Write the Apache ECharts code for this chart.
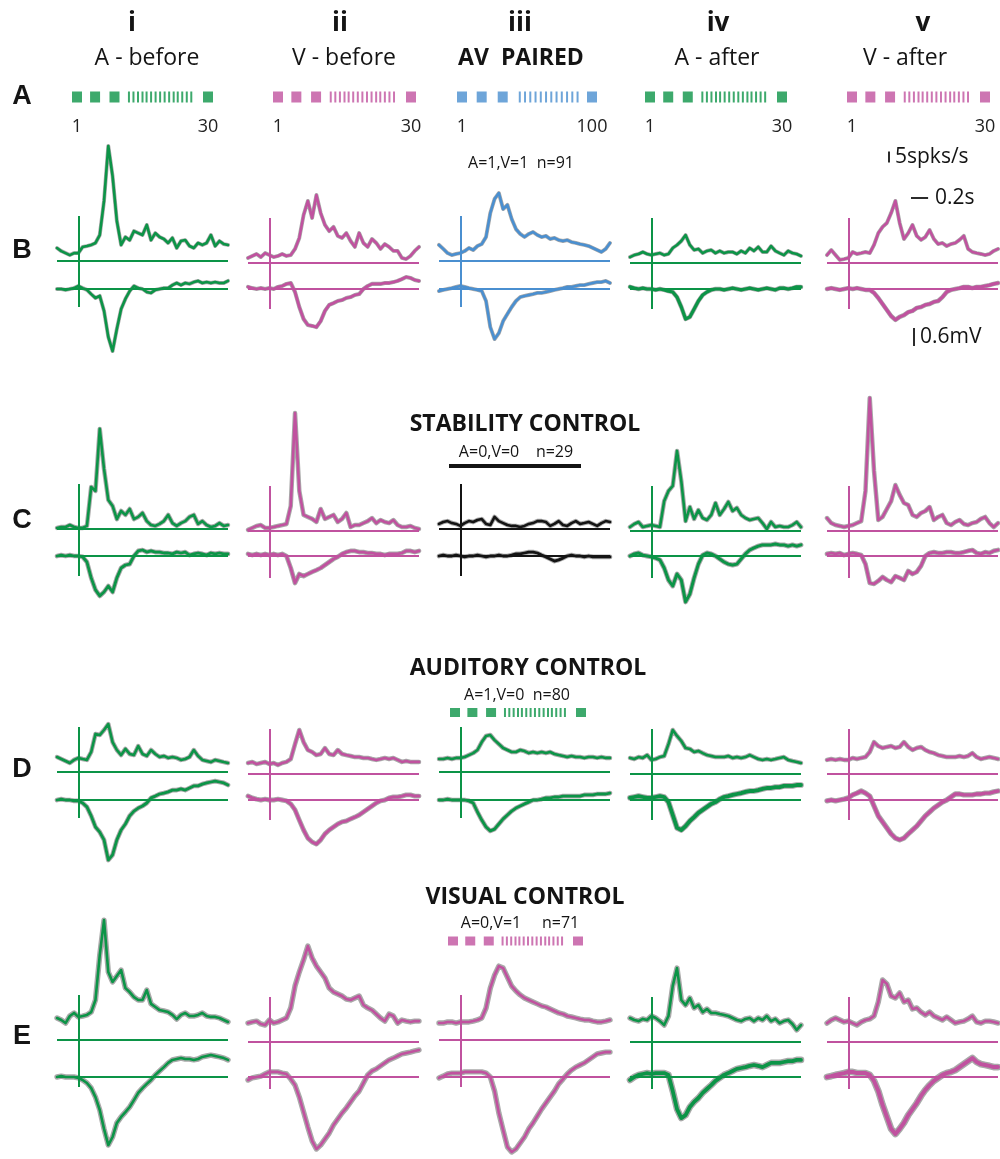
<!DOCTYPE html>
<html>
<head>
<meta charset="utf-8">
<title>Spiking and LFP responses before and after audio-visual pairing</title>
<script src="https://cdn.jsdelivr.net/npm/echarts@6/dist/echarts.min.js"></script>
<style>
  html, body { margin: 0; padding: 0; background: #ffffff; }
  #chart { width: 1000px; height: 1159px; }
</style>
</head>
<body>
<div id="chart"></div>
<script>
// ---------------- labels ----------------
const columnNumerals = ['i', 'ii', 'iii', 'iv', 'v'];
const columnTitles = ['A - before', 'V - before', 'AV  PAIRED', 'A - after', 'V - after'];
const rowLetters = ['A', 'B', 'C', 'D', 'E'];
const trialAxisMax = [30, 30, 100, 30, 30];
const controlTitles = ['STABILITY CONTROL', 'AUDITORY CONTROL', 'VISUAL CONTROL'];
const conditionLabels = ['A=1,V=1  n=91', 'A=0,V=0    n=29', 'A=1,V=0  n=80', 'A=0,V=1     n=71'];
const scaleLabels = ['5spks/s', '0.2s', '0.6mV'];

// trial markers of the stimulation protocol (trial number)
const stimBlocks30 = [1, 5, 9.3, 30];
const stimTicks30 = [12.5, 13.5, 14.5, 15.5, 16.4, 17.4, 18.4, 19.4, 20.4, 21.4, 22.4, 23.3, 24.3, 25.3, 26.3];
const stimBlocks100 = [1, 16, 32, 100];
const stimTicks100 = [45, 49, 53, 57, 61, 65, 69, 73, 77, 81, 85, 89];

// ---------------- responses ----------------
// 41 samples, -0.25 s .. 1.75 s, stimulus onset at 0 s
// PSTH in spikes/s, LFP in mV

const psth_B_i = [5.9,4.5,3.6,2.7,3.6,3.6,6.4,6.8,7.3,8.2,11.8,27.3,52.3,38.6,18.2,7.3,10.9,9.5,13.6,12.7,11.8,16.4,9.5,12.7,10.9,10,8.2,10.5,5.9,9.1,9.5,6.8,5.9,8.2,7.3,8.2,11.8,6.8,9.1,7.7,7.3];
const lfp_B_i = [0,0,-0.03,0,0.03,0.1,0.03,-0.03,-0.17,-0.3,-0.23,-0.73,-1.6,-2.07,-1.33,-0.67,-0.33,-0.07,0.1,0.03,0,-0.1,-0.13,-0.03,0,0.03,0.03,0.13,0.2,0.13,0.2,0.17,0.23,0.27,0.2,0.23,0.2,0.23,0.2,0.2,0.27];
const psth_B_ii = [2.3,3.2,4.1,2.7,4.5,3.6,2.7,3.2,4.1,3.2,3.6,6.4,11.4,21.8,28.2,20.5,30.9,22.7,17.3,14.5,16.4,12.3,11.4,13.6,10,7.3,13.6,9.1,7.3,10.9,9.1,6.4,8.6,7.3,5.5,5.5,2.3,1.8,3.2,5.5,7.3];
const lfp_B_ii = [0.07,0.03,0,0.03,0,0.03,0,0.07,0.1,0.17,0.2,-0.1,-0.6,-1,-1.2,-1.23,-1.27,-1.07,-0.73,-0.53,-0.47,-0.4,-0.37,-0.3,-0.27,-0.2,-0.17,0,0.1,0.17,0.17,0.17,0.2,0.2,0.23,0.27,0.33,0.4,0.37,0.3,0.27];
const psth_B_iii = [7.3,5.5,3.6,2.7,3.2,3.6,4.5,5.9,5,6.8,7.7,10.9,21.8,28.2,30.9,23.6,25.5,19.1,14.5,12.3,10.9,12.3,13.2,11.8,10.9,11.4,10,10.5,9.5,9.1,9.5,8.6,8.2,7.7,7.3,6.8,5.9,5,4.1,5.5,8.2];
const lfp_B_iii = [-0.07,-0.03,0,0.03,0.07,0.1,0.07,0.03,0,-0.03,-0.07,-0.4,-1.27,-1.67,-1.47,-1.07,-0.83,-0.6,-0.4,-0.27,-0.23,-0.2,-0.17,-0.13,-0.13,-0.1,-0.07,-0.03,0,0.03,0.07,0.07,0.1,0.13,0.13,0.17,0.2,0.23,0.23,0.27,0.2];
const psth_B_iv = [2.7,3.6,4.1,5,4.1,3.6,4.1,4.5,3.6,4.1,6.8,8.2,10,12.7,8.2,5.9,6.4,4.5,5.5,5.9,4.5,5.5,4.5,5,5,4.1,5.5,4.5,6.8,5.5,7.3,5,5,7.7,5.5,4.5,3.6,5.5,4.5,4.1,3.2];
const lfp_B_iv = [0.07,0.03,0,0.03,0,0,-0.03,0,-0.03,-0.07,-0.1,-0.27,-0.6,-1,-0.93,-0.67,-0.4,-0.2,-0.1,-0.03,0,0,-0.03,0,0.03,0,-0.03,0,0.03,0,-0.03,0,0.03,0,-0.03,0.03,0.03,0,0.03,0.07,0.07];
const psth_B_v = [3.6,5.9,3.6,1.4,1.8,2.3,5,4.1,4.5,5,4.5,8.2,13.6,16.4,18.2,22.7,28.2,18.2,10.9,13.6,17.3,12.3,10.5,11.8,15,10.9,8.6,9.1,7.7,8.6,9.1,10.5,12.3,6.4,5,4.5,4.1,3.6,4.1,5.5,6.4];
const lfp_B_v = [0,0.03,0,-0.03,0,0.03,0,0.03,0,-0.03,-0.03,-0.13,-0.3,-0.5,-0.7,-0.9,-1.03,-0.93,-0.87,-0.77,-0.73,-0.63,-0.6,-0.53,-0.5,-0.43,-0.4,-0.27,-0.1,-0.03,0,0.03,0.07,0.07,0.03,0.07,0.07,0.1,0.13,0.17,0.2];

const psth_C_i = [0.5,0.9,0.9,1.8,0.9,0.5,0.5,1.4,19.1,17.3,45.5,27.3,13.2,10.5,4.5,8.2,6.4,9.1,4.5,5.5,7.3,3.6,1.8,1.4,2.3,3.6,6.4,2.7,1.4,2.7,3.6,5.5,6.4,2.3,3.6,1.8,0.9,1.4,2.7,1.4,1.8];
const lfp_C_i = [0,0.03,0,0.03,0,0,-0.03,-0.2,-0.73,-1.13,-1.33,-1.2,-1,-1.2,-0.73,-0.4,-0.3,-0.27,0,0.17,0.2,0.13,0.17,0.13,0.13,0.1,0.1,0.07,0.13,0.1,0.13,0.03,0.07,0.1,0.07,0.03,0.1,0.07,0.1,0.07,0.07];
const psth_C_ii = [0.5,1.4,2.3,2.7,1.4,1.4,1.8,2.3,2.7,3.2,11.4,53.6,18.2,7.3,6.4,5.5,4.1,10,5.5,6.4,7.3,4.1,5.5,8.2,1.8,2.7,2.7,3.6,4.5,5.9,3.6,5,4.1,3.6,5,2.7,1.8,1.8,2.3,1.4,0.9];
const lfp_C_ii = [0.07,0.03,0.07,0.03,0.07,0.03,0.07,0.03,0.07,0,-0.4,-0.9,-0.6,-0.67,-0.6,-0.53,-0.47,-0.4,-0.3,-0.2,-0.1,-0.03,0.07,0.13,0.17,0.17,0.13,0.13,0.1,0.1,0.07,0.07,0.03,0.07,0.07,0.07,0.1,0.17,0.17,0.13,0.17];
const psth_C_iii = [2.3,3.2,3.6,2.7,2.3,1.4,2.7,3.6,3.2,4.1,4.5,2.3,1.8,5.5,3.6,2.7,1.8,1.4,1.4,0.9,1.4,2.3,2.7,3.6,3.6,3.2,1.4,2.3,3.6,1.8,1.4,2.7,3.6,2.3,2.7,3.2,2.3,1.4,2.7,3.6,3.2];
const lfp_C_iii = [0,0.03,0,0,0.03,0,-0.03,0,0,0.03,0,-0.03,0,0,0.03,0,0,0.03,0.07,0.07,0.1,0.13,0.13,0.1,0.03,-0.03,-0.1,-0.17,-0.13,-0.07,0,0.03,0,0,-0.03,0,-0.03,-0.03,-0.03,-0.03,-0.03];
const psth_C_iv = [1.8,3.2,4.1,1.8,2.3,2.7,2.3,1.8,13.6,18.2,20.5,36.4,22.7,4.5,10.9,5.5,9.5,5.9,5,7.3,12.7,7.3,10,13.2,9.1,10.5,7.3,5.9,5,5.5,5.9,3.6,0.9,4.1,1.8,2.3,1.8,1.8,2.7,4.1,1.8];
const lfp_C_iv = [0,0.07,0.1,0.03,0,-0.03,-0.07,-0.13,-0.4,-0.8,-1,-0.6,-0.8,-1.53,-1.27,-0.73,-0.27,0.03,0.1,0.07,0,-0.1,-0.2,-0.27,-0.3,-0.27,-0.1,0.07,0.2,0.27,0.33,0.37,0.37,0.37,0.4,0.37,0.37,0.33,0.37,0.33,0.37];
const psth_C_v = [5.9,3.6,2.7,2.3,1.8,2.3,2.7,3.6,4.5,18.2,60.5,27.3,5,6.4,10,13.6,20.9,16.4,12.7,11.8,7.3,6.4,8.2,9.1,10.9,5,6.4,7.3,3.6,2.7,4.1,5,3.2,2.7,3.6,4.1,5.5,6.4,3.6,1.8,3.6];
const lfp_C_v = [0.07,0.1,0.07,0.1,0.03,0.07,0.1,0.07,0.03,-0.27,-0.9,-0.93,-0.83,-0.7,-0.8,-0.87,-0.67,-0.73,-0.8,-0.5,-0.6,-0.53,-0.33,0,0.1,0.13,0.1,0.1,0.13,0.13,0.1,0.1,0.13,0.17,0.2,0.1,0.07,0.13,0.1,0.17,0.2];

const psth_D_i = [6.8,5.9,5,4.1,5.5,6.4,5.9,5.5,9.1,17.3,16.8,19.1,21.8,13.6,10,7.7,10.5,8.2,7.7,11.8,8.2,7.3,10,8.2,6.8,7.3,6.4,6.8,6.4,5.5,5.9,6.8,10,7.3,5.5,5,4.5,5.5,5,4.5,4.1];
const lfp_D_i = [0,0.03,0,0,-0.03,-0.03,-0.1,-0.23,-0.53,-0.9,-1.07,-1.33,-2,-1.83,-1.33,-1,-0.8,-0.53,-0.37,-0.27,-0.2,-0.1,0.07,0.13,0.2,0.23,0.27,0.33,0.33,0.37,0.33,0.4,0.47,0.47,0.53,0.57,0.6,0.63,0.6,0.57,0.5];
const psth_D_ii = [5,5.5,4.5,5,5.5,4.5,5,4.1,5,5.5,6.8,13.6,20,14.5,10.9,10,8.6,9.1,11.8,9.1,8.6,10.9,9.1,8.6,8.2,7.7,7.7,7.3,7.3,6.8,6.4,6.8,7.3,6.8,7.3,6.4,5.5,5.9,5.5,5.5,5.5];
const lfp_D_ii = [0.13,0.07,0.03,0,0.03,0,0,0.03,0,-0.03,-0.13,-0.33,-0.67,-1,-1.27,-1.4,-1.47,-1.33,-1.13,-1,-0.9,-0.8,-0.73,-0.7,-0.63,-0.57,-0.5,-0.4,-0.3,-0.2,-0.1,-0.03,0,0.07,0.1,0.1,0.13,0.17,0.17,0.13,0.13];
const psth_D_iii = [5.9,5.9,6.4,5.9,6.4,6.4,6.8,7.7,8.6,10,13.6,16.4,16.8,14.5,12.7,10.9,10,9.1,9.1,10,9.5,8.6,9.1,8.6,9.1,8.6,9.1,8.2,7.7,7.3,6.8,7.3,6.8,6.8,6.4,6.8,6.8,6.4,6.8,6.4,6.4];
const lfp_D_iii = [0,0,0.03,0,0,0,0,-0.03,-0.1,-0.4,-0.67,-0.9,-1.03,-0.97,-0.8,-0.63,-0.5,-0.37,-0.27,-0.2,-0.13,-0.07,0,0,0.03,0.07,0.07,0.1,0.1,0.13,0.13,0.13,0.13,0.13,0.17,0.17,0.17,0.2,0.2,0.2,0.23];
const psth_D_iv = [7.3,6.8,7.7,7.3,8.6,6.4,6.8,7.7,8.2,13.6,20,17.3,15,11.8,11.4,10,10.5,9.5,8.6,8.2,7.7,7.7,7.7,8.2,7.3,7.7,7.3,7.7,8.6,7.7,6.8,6.4,6.8,6.4,6.8,7.3,7.7,6.4,5.9,5.5,5];
const lfp_D_iv = [0.07,0.1,0.13,0.1,0.07,0.07,0.1,0.13,0.1,-0.07,-0.5,-0.93,-1,-0.87,-0.7,-0.57,-0.43,-0.33,-0.23,-0.13,-0.07,0.03,0.1,0.13,0.17,0.2,0.23,0.27,0.3,0.3,0.33,0.37,0.4,0.4,0.43,0.43,0.47,0.47,0.47,0.5,0.5];
const psth_D_v = [6.4,6.8,6.4,6.8,6.4,6.4,7.3,6.8,7.3,7.7,10,14.5,12.7,11.8,12.3,12.7,11.8,12.3,14.5,12.3,10.9,11.8,12.3,10.9,10,9.5,8.6,8.2,7.7,7.7,7.7,8.2,7.7,8.2,9.5,7.7,6.8,7.3,7.7,7.3,6.8];
const lfp_D_v = [-0.03,0,-0.03,0,0.03,0.07,0.17,0.23,0.3,0.23,0.13,-0.2,-0.53,-0.73,-0.93,-1.13,-1.27,-1.33,-1.27,-1.13,-1,-0.87,-0.7,-0.53,-0.4,-0.27,-0.17,-0.07,0,0.1,0.2,0.2,0.17,0.17,0.17,0.2,0.2,0.23,0.23,0.27,0.3];

const psth_E_i = [10,9.1,7.7,10.9,12.3,10.5,10.9,11.4,12.7,18.2,38.6,54.5,30.9,26.4,29.1,31.8,23.6,21.8,19.5,18.2,18.2,22.7,16.4,15,13.6,13.2,12.7,11.4,9.5,11.4,12.3,10.9,10.9,11.4,12.3,10.9,10.5,10.5,10,9.1,8.2];
const lfp_E_i = [0,0.03,0,0,0,-0.03,-0.1,-0.2,-0.37,-0.67,-1.1,-1.73,-2.27,-2,-1.53,-1.33,-1.17,-1,-0.77,-0.53,-0.37,-0.23,-0.1,0.07,0.2,0.33,0.47,0.57,0.6,0.63,0.6,0.6,0.57,0.6,0.67,0.7,0.73,0.7,0.67,0.63,0.57];
const psth_E_ii = [8.6,9.1,9.5,8.2,7.7,10,8.6,9.1,10,10.9,15.5,25.5,31.8,37.3,43.6,38.2,34.5,31.8,29.1,24.5,22.7,21.8,20.9,19.5,19.1,20,20.9,16.8,15.5,14.5,12.7,10.9,9.5,12.7,11.8,8.6,10,9.5,9.1,9.5,9.5];
const lfp_E_ii = [-0.1,-0.03,0,0.03,0.1,0.17,0.17,0.17,0.13,0.1,-0.07,-0.27,-0.67,-1.17,-1.67,-2.13,-2.4,-2.27,-2.07,-1.87,-1.6,-1.4,-1.2,-1.03,-0.83,-0.63,-0.47,-0.2,0.07,0.2,0.27,0.37,0.47,0.57,0.63,0.7,0.77,0.8,0.83,0.87,0.9];
const psth_E_iii = [7.7,7.7,8.2,8.2,7.7,8.2,8.2,8.2,8.6,9.1,10,14.5,23.6,29.5,33.6,32.7,28.6,24.5,22.3,20.5,19.1,18.2,17.3,16.4,15.5,15,14.1,13.2,12.3,11.8,10.9,10.5,10,9.5,9.1,9.1,8.6,8.2,8.2,8.6,9.1];
const lfp_E_iii = [-0.03,0.03,0.1,0.13,0.13,0.13,0.17,0.17,0.17,0.17,0.17,0.13,0,-0.47,-1.2,-1.77,-2.33,-2.5,-2.4,-2.2,-2,-1.73,-1.53,-1.3,-1.07,-0.87,-0.67,-0.47,-0.23,-0.07,0.1,0.23,0.33,0.4,0.47,0.57,0.67,0.77,0.8,0.83,0.83];
const psth_E_iv = [10.9,10,9.5,10.5,10,11.8,10.9,9.5,7.7,11.8,25.5,33.6,19.1,16.8,20,15.5,16.8,13.6,15,13.2,13.2,12.7,12.3,11.8,10.9,10,9.5,10.5,10.9,9.5,10.9,10,11.8,9.5,10.5,8.6,9.5,10,8.2,5.5,7.7];
const lfp_E_iv = [-0.1,0,0.07,0.1,0.13,0.1,0.13,0.13,0.13,0.07,-0.47,-1.07,-1.37,-1.27,-1,-0.83,-0.7,-0.53,-0.4,-0.27,-0.13,-0.03,0.07,0.13,0.2,0.27,0.3,0.33,0.37,0.4,0.37,0.33,0.4,0.47,0.47,0.47,0.5,0.53,0.53,0.57,0.57];
const psth_E_v = [8.6,10,10.9,10,9.1,9.5,8.6,7.7,9.1,10,10.5,11.8,18.2,28.2,26.4,20.9,20,22.3,18.2,19.1,15,15.5,13.6,12.3,13.6,11.8,10.9,10,11.4,10,8.6,9.1,9.5,10.5,11.8,9.1,8.6,9.5,9.5,9.1,8.6];
const lfp_E_v = [0,0.03,0.07,0.1,0.13,0.17,0.17,0.13,0.13,0.13,0.07,-0.13,-0.47,-0.93,-1.33,-1.73,-1.9,-1.73,-1.53,-1.27,-1.07,-0.87,-0.63,-0.43,-0.27,-0.13,-0.03,0.07,0.13,0.17,0.23,0.33,0.43,0.53,0.63,0.5,0.43,0.4,0.37,0.33,0.33];

// which stimulus each panel shows, and its traces
const panels = [
  { row: 'B', col: 0, kind: 'A',  psth: psth_B_i,   lfp: lfp_B_i },
  { row: 'B', col: 1, kind: 'V',  psth: psth_B_ii,  lfp: lfp_B_ii },
  { row: 'B', col: 2, kind: 'AV', psth: psth_B_iii, lfp: lfp_B_iii },
  { row: 'B', col: 3, kind: 'A',  psth: psth_B_iv,  lfp: lfp_B_iv },
  { row: 'B', col: 4, kind: 'V',  psth: psth_B_v,   lfp: lfp_B_v },
  { row: 'C', col: 0, kind: 'A',  psth: psth_C_i,   lfp: lfp_C_i },
  { row: 'C', col: 1, kind: 'V',  psth: psth_C_ii,  lfp: lfp_C_ii },
  { row: 'C', col: 2, kind: '0',  psth: psth_C_iii, lfp: lfp_C_iii },
  { row: 'C', col: 3, kind: 'A',  psth: psth_C_iv,  lfp: lfp_C_iv },
  { row: 'C', col: 4, kind: 'V',  psth: psth_C_v,   lfp: lfp_C_v },
  { row: 'D', col: 0, kind: 'A',  psth: psth_D_i,   lfp: lfp_D_i },
  { row: 'D', col: 1, kind: 'V',  psth: psth_D_ii,  lfp: lfp_D_ii },
  { row: 'D', col: 2, kind: 'A',  psth: psth_D_iii, lfp: lfp_D_iii },
  { row: 'D', col: 3, kind: 'A',  psth: psth_D_iv,  lfp: lfp_D_iv },
  { row: 'D', col: 4, kind: 'V',  psth: psth_D_v,   lfp: lfp_D_v },
  { row: 'E', col: 0, kind: 'A',  psth: psth_E_i,   lfp: lfp_E_i },
  { row: 'E', col: 1, kind: 'V',  psth: psth_E_ii,  lfp: lfp_E_ii },
  { row: 'E', col: 2, kind: 'V',  psth: psth_E_iii, lfp: lfp_E_iii },
  { row: 'E', col: 3, kind: 'A',  psth: psth_E_iv,  lfp: lfp_E_iv },
  { row: 'E', col: 4, kind: 'V',  psth: psth_E_v,   lfp: lfp_E_v }
];
const protocolKinds = ['A', 'V', 'AV', 'A', 'V'];

// ---------------- styling and layout ----------------
const COLORS = { A: '#0c9447', V: '#c0529f', AV: '#4a8fd0', '0': '#141414' };
const BAND_COLOR = '#a9a9a9';
const TEXT_COLOR = '#141414';
const FONT = '"Open Sans", "Noto Sans", sans-serif';

const T_MIN = -0.25, T_MAX = 1.75;
const PX_PER_SPK = 2.2;   // 5 spks/s scale bar = 11 px
const PX_PER_MV = 30;     // 0.6 mV scale bar = 18 px
const CELL_WIDTH = 171;
const PX_PER_S = CELL_WIDTH / (T_MAX - T_MIN);
const COL_LEFT = [57, 248, 439, 630, 827];
const COL_SHIFT = [0, 2, 0, 2, 2];
const ROWS = {
  B: { top: 216, psth: 261, lfp: 289, bottom: 307, band: 1.3 },
  C: { top: 484, psth: 529, lfp: 556, bottom: 576, band: 1.9 },
  D: { top: 727, psth: 772, lfp: 800, bottom: 818, band: 1.9 },
  E: { top: 995, psth: 1040, lfp: 1077, bottom: 1087, band: 2.8 }
};
const TRACE_WIDTH = 2.6;
const LFP_WIDTH = {
  B: [2.6, 2.8, 2.6, 3.2, 3.2],
  C: [2.8, 2.8, 2.8, 3.0, 2.8],
  D: [2.8, 3.0, 2.8, 3.8, 3.4],
  E: [2.6, 2.6, 2.6, 3.8, 4.0]
};

const option = { animation: false, grid: [], xAxis: [], yAxis: [], series: [], graphic: [] };

function addGrid(rect, xAxis, yAxis) {
  const idx = option.grid.length;
  option.grid.push(Object.assign({ show: false }, rect));
  option.xAxis.push(Object.assign({ gridIndex: idx, type: 'value', show: false }, xAxis));
  option.yAxis.push(Object.assign({ gridIndex: idx, type: 'value', show: false }, yAxis));
  return idx;
}

function toPairs(values) {
  const n = values.length;
  return values.map((v, i) => [T_MIN + (T_MAX - T_MIN) * i / (n - 1), v]);
}

function addTrace(idx, values, color, width, bandWidth) {
  const data = toPairs(values);
  const common = { type: 'line', xAxisIndex: idx, yAxisIndex: idx, data: data, symbol: 'none',
                   clip: false, silent: true, smooth: false, emphasis: { disabled: true } };
  option.series.push(Object.assign({}, common, {
    z: 2, lineStyle: { color: BAND_COLOR, width: bandWidth, join: 'round', cap: 'round' } }));
  option.series.push(Object.assign({}, common, {
    z: 3, lineStyle: { color: color, width: width, join: 'round', cap: 'round' } }));
}

function addReferenceLines(idx, color, withOnset) {
  const lines = [{ yAxis: 0 }];
  if (withOnset) lines.push({ xAxis: 0 });
  option.series.push({
    type: 'line', xAxisIndex: idx, yAxisIndex: idx, data: [], z: 1, silent: true,
    markLine: { silent: true, symbol: ['none', 'none'], animation: false, label: { show: false },
                lineStyle: { color: color, width: 2, type: 'solid' }, emphasis: { disabled: true },
                data: lines }
  });
}

// response panels: spike-rate trace on top, LFP below, sharing the time axis
panels.forEach(p => {
  const g = ROWS[p.row];
  const dy = COL_SHIFT[p.col];
  const color = COLORS[p.kind];
  const rect = { left: COL_LEFT[p.col], top: g.top + dy, width: CELL_WIDTH, height: g.bottom - g.top };
  const xAxis = { min: T_MIN, max: T_MAX };

  const psthIdx = addGrid(rect, xAxis, {
    min: -(g.bottom - g.psth) / PX_PER_SPK, max: (g.psth - g.top) / PX_PER_SPK });
  addReferenceLines(psthIdx, color, true);
  addTrace(psthIdx, p.psth, color, TRACE_WIDTH, TRACE_WIDTH + g.band);

  const lfpIdx = addGrid(rect, xAxis, {
    min: -(g.bottom + dy - g.lfp) / PX_PER_MV, max: (g.lfp - g.top - dy) / PX_PER_MV });
  addReferenceLines(lfpIdx, color, false);
  const lw = LFP_WIDTH[p.row][p.col];
  addTrace(lfpIdx, p.lfp, color, lw, lw + g.band);
});

// stimulation protocol strips
function addProtocol(rect, maxTrial, blocks, ticks, color, blockSize, showLabels) {
  const xAxis = { min: 1, max: maxTrial };
  if (showLabels) {
    Object.assign(xAxis, {
      show: true, axisLine: { show: false }, axisTick: { show: false }, splitLine: { show: false },
      axisLabel: { customValues: [1, maxTrial], margin: 15, fontSize: 18, color: '#222222',
                   fontFamily: FONT, showMinLabel: true, showMaxLabel: true }
    });
  }
  const idx = addGrid(rect, xAxis, { min: -1, max: 1 });
  option.series.push({ type: 'scatter', xAxisIndex: idx, yAxisIndex: idx, silent: true,
    data: blocks.map(v => [v, 0]), symbol: 'rect', symbolSize: blockSize, itemStyle: { color: color } });
  option.series.push({ type: 'scatter', xAxisIndex: idx, yAxisIndex: idx, silent: true,
    data: ticks.map(v => [v, 0]), symbol: 'rect', symbolSize: [2, blockSize[1]], itemStyle: { color: color } });
}

const PROTOCOL_FIRST = [77, 278, 462, 650, 852];
const PROTOCOL_LAST = [208, 411, 592, 782, 985];
protocolKinds.forEach((kind, c) => {
  const long = trialAxisMax[c] === 100;
  addProtocol({ left: PROTOCOL_FIRST[c], width: PROTOCOL_LAST[c] - PROTOCOL_FIRST[c], top: 91.5, height: 11 },
    trialAxisMax[c], long ? stimBlocks100 : stimBlocks30, long ? stimTicks100 : stimTicks30,
    COLORS[kind], [10, 11], true);
});
addProtocol({ left: 455, width: 126, top: 708, height: 9 }, 30, stimBlocks30, stimTicks30, COLORS.A, [10, 9], false);
addProtocol({ left: 453, width: 125, top: 936.5, height: 9 }, 30, stimBlocks30, stimTicks30, COLORS.V, [10, 9], false);

// ---------------- text and scale bars ----------------
function text(x, y, str, size, weight, align, family) {
  option.graphic.push({ type: 'text', x: x, y: y, silent: true, z: 10,
    style: { text: str, fontSize: size, fontWeight: weight || 'normal', fontFamily: family || FONT,
             fill: TEXT_COLOR, align: align || 'center', verticalAlign: 'middle' } });
}
function bar(x1, y1, x2, y2, w) {
  option.graphic.push({ type: 'line', silent: true, z: 10,
    shape: { x1: x1, y1: y1, x2: x2, y2: y2 }, style: { stroke: TEXT_COLOR, lineWidth: w } });
}

const numeralX = [132, 340, 520, 718, 923];
const titleX = [147, 344, 521, 717, 905];
columnNumerals.forEach((s, c) => text(numeralX[c], 24, s, 26, 'bold'));
columnTitles.forEach((s, c) => text(titleX[c], 58, s, 23, c === 2 ? 'bold' : 'normal'));

const letterY = [97, 251, 521, 770, 1037];
rowLetters.forEach((s, r) => text(22, letterY[r], s, 27, 'bold', 'center', '"Liberation Sans", Arial, sans-serif'));

text(525, 424, controlTitles[0], 23, 'bold');
text(528, 668, controlTitles[1], 23, 'bold');
text(525, 897, controlTitles[2], 23, 'bold');

text(521, 163, conditionLabels[0], 16);
text(516, 452, conditionLabels[1], 16);
text(517, 695, conditionLabels[2], 16);
text(520, 923, conditionLabels[3], 16);

// no-stimulus bar of the stability control
option.graphic.push({ type: 'rect', silent: true, z: 10,
  shape: { x: 449, y: 464, width: 132, height: 4 }, style: { fill: TEXT_COLOR } });

// scale bars
bar(889, 157 - 5 * PX_PER_SPK / 2, 889, 157 + 5 * PX_PER_SPK / 2, 1.8);
text(895, 157, scaleLabels[0], 21, 'normal', 'left');
bar(911, 198, 911 + 0.2 * PX_PER_S, 198, 1.8);
text(935, 198, scaleLabels[1], 21, 'normal', 'left');
bar(914, 337 - 0.6 * PX_PER_MV / 2, 914, 337 + 0.6 * PX_PER_MV / 2, 1.8);
text(920, 337, scaleLabels[2], 21, 'normal', 'left');

const chart = echarts.init(document.getElementById('chart'), null, { renderer: 'canvas' });
chart.setOption(option);
</script>
</body>
</html>
